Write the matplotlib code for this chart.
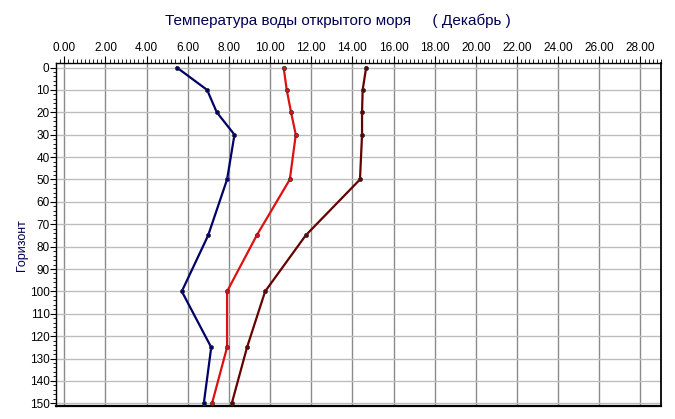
import matplotlib
matplotlib.use("Agg")
import matplotlib.pyplot as plt
from matplotlib.ticker import MultipleLocator, FormatStrFormatter

depths = [0, 10, 20, 30, 50, 75, 100, 125, 150]
temp_blue = [5.47, 6.94, 7.41, 8.27, 7.91, 6.99, 5.71, 7.14, 6.78]
temp_red = [10.66, 10.81, 11.02, 11.25, 10.96, 9.35, 7.91, 7.91, 7.18]
temp_darkred = [14.67, 14.50, 14.47, 14.47, 14.37, 11.73, 9.76, 8.88, 8.14]

series = [
    (temp_blue, "#000066"),
    (temp_red, "#dd1111"),
    (temp_darkred, "#660000"),
]

title = "Температура воды открытого моря     ( Декабрь )"
ylabel = "Горизонт"

plt.rcParams['font.family'] = ['Liberation Sans', 'DejaVu Sans']

fig = plt.figure(figsize=(6.75, 4.19), dpi=100)
ax = fig.add_axes([56.5/675, 1 - 406/419, (661 - 56.5)/675, (406 - 63.5)/419])

for vals, col in series:
    ax.plot(vals, depths, color=col, lw=1.6, marker='o', ms=3,
            markerfacecolor=col, markeredgecolor='#333333', markeredgewidth=0.5,
            zorder=3)

ax.set_xlim(-0.38, 29.0)
ax.set_ylim(151.2, -1.8)

ax.xaxis.set_major_locator(MultipleLocator(2))
ax.xaxis.set_minor_locator(MultipleLocator(0.2))
ax.xaxis.set_major_formatter(FormatStrFormatter('%.2f'))
ax.yaxis.set_major_locator(MultipleLocator(10))
ax.yaxis.set_minor_locator(MultipleLocator(2))

ax.xaxis.tick_top()
ax.tick_params(axis='x', which='major', length=5, width=0.8, labelsize=8.5, pad=2, direction='out')
ax.tick_params(axis='x', which='minor', length=3, width=0.6, direction='out')
ax.tick_params(axis='y', which='major', length=4, width=0.8, labelsize=8.5, pad=1, direction='out')
ax.tick_params(axis='y', which='minor', length=2, width=0.6, direction='out')

ax.grid(True, axis='x', which='major', color='#8a8a8a', lw=1.0, zorder=0)
ax.grid(True, axis='y', which='major', color='#bdbdbd', lw=1.0, zorder=0)

for s in ax.spines.values():
    s.set_color('black')
    s.set_linewidth(1.0)
ax.spines['bottom'].set_linewidth(1.6)
ax.spines['right'].set_linewidth(1.3)

fig.text(338/675, 1 - 21/419, title, ha='center', va='center', fontsize=11, color='#000055')
fig.text(22/675, 1 - 245/419, ylabel, ha='center', va='center', rotation=90, fontsize=9, color='#000055')

fig.savefig("out.png", dpi=100)
